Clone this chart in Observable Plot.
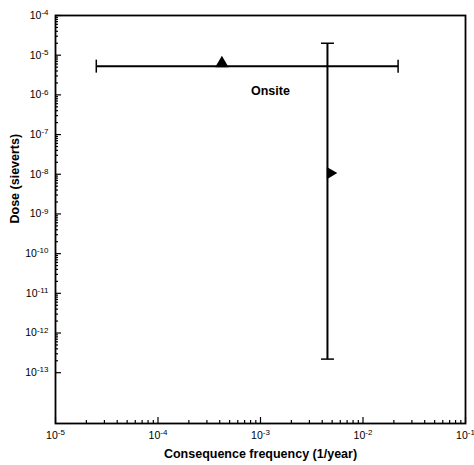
<!DOCTYPE html>
<html><head><meta charset="utf-8">
<script src="https://cdn.jsdelivr.net/npm/d3@7"></script>
<script src="https://cdn.jsdelivr.net/npm/@observablehq/plot@0.6"></script>
<style>
body{margin:0;background:#fff;}
</style></head>
<body><div id="chart"></div>
<script>
// horizontal range (frequency uncertainty)
const hBar = [{x1: 2.5e-5, x2: 2.2e-2, y: 5.3e-6}];
// vertical range (dose uncertainty)
const vBar = [{x: 4.5e-3, y1: 2.2e-13, y2: 2.0e-5}];
// point estimates
const upPoints = [{x: 4.2e-4, y: 6.2e-6}];
const rightPoints = [{x: 4.8e-3, y: 1.07e-8}];
const labels = [{x: 1.25e-3, y: 1.25e-6, text: "Onsite"}];
const xMajor = [1e-5, 1e-4, 1e-3, 1e-2, 1e-1];
const yMajor = [1e-4,1e-5,1e-6,1e-7,1e-8,1e-9,1e-10,1e-11,1e-12,1e-13];

const fmt = d => "10^" + Math.round(Math.log10(d));
const minors = (lo, hi) => { const a=[]; for (let e=lo; e<hi; e++) for (let m=2; m<=9; m++) a.push(m*10**e); return a; };
const xMinor = minors(-5, -1);
const yMinor = minors(-13, -4);

const W = 474, H = 465, ML = 55, MR = 9, MT = 15, MB = 42;
const FW = W - ML - MR, FH = H - MT - MB;

// fixed-length cap symbols
const seg = (x0, y0, x1, y1) => ({draw(ctx){ ctx.moveTo(x0, y0); ctx.lineTo(x1, y1); }});
const capV = seg(0, -6.5, 0, 6.5);
const capH = seg(-6.5, 0, 6.5, 0);

const chart = Plot.plot({
  width: W, height: H,
  marginLeft: ML, marginRight: MR, marginTop: MT, marginBottom: MB,
  x: {type: "log", domain: [1e-5, 1e-1]},
  y: {type: "log", domain: [10**-14.28, 1e-4]},
  marks: [
    Plot.axisX({ticks: xMajor, tickSize: 0, tickPadding: 8, tickFormat: fmt, label: null, fontSize: 10.5, fontFamily: "Liberation Sans, Arial, sans-serif"}),
    Plot.axisY({ticks: yMajor, tickSize: 0, tickPadding: 7, tickFormat: fmt, label: null, fontSize: 10.5, fontFamily: "Liberation Sans, Arial, sans-serif"}),
    Plot.ruleX(xMajor, {x: d => d, insetTop: FH - 6, stroke: "#000", strokeWidth: 1.2}),
    Plot.ruleX(xMinor, {x: d => d, insetTop: FH - 3, stroke: "#000", strokeWidth: 1.2}),
    Plot.ruleY(yMajor, {y: d => d, insetRight: FW - 6, stroke: "#000", strokeWidth: 1.2}),
    Plot.ruleY(yMinor, {y: d => d, insetRight: FW - 3, stroke: "#000", strokeWidth: 1.2}),
    Plot.frame({stroke: "#000", strokeWidth: 1.8}),
    Plot.text(["Consequence frequency (1/year)"], {frameAnchor: "bottom", dy: 34, fontSize: 12.5, fontWeight: "bold", fontFamily: "Liberation Sans, Arial, sans-serif"}),
    Plot.text(["Dose (sieverts)"], {frameAnchor: "left", dx: -41, dy: 4, rotate: -90, fontSize: 12.5, fontWeight: "bold", fontFamily: "Liberation Sans, Arial, sans-serif"}),
    Plot.link(hBar, {x1: "x1", x2: "x2", y1: "y", y2: "y", stroke: "#000", strokeWidth: 2}),
    Plot.dot(hBar, {x: "x1", y: "y", symbol: capV, stroke: "#000", strokeWidth: 1.5}),
    Plot.dot(hBar, {x: "x2", y: "y", symbol: capV, stroke: "#000", strokeWidth: 1.5}),
    Plot.link(vBar, {x1: "x", x2: "x", y1: "y1", y2: "y2", stroke: "#000", strokeWidth: 2}),
    Plot.dot(vBar, {x: "x", y: "y1", symbol: capH, stroke: "#000", strokeWidth: 1.5}),
    Plot.dot(vBar, {x: "x", y: "y2", symbol: capH, stroke: "#000", strokeWidth: 1.5}),
    Plot.dot(upPoints, {x: "x", y: "y", symbol: "triangle", r: 5, fill: "#000", stroke: "none"}),
    Plot.dot(rightPoints, {x: "x", y: "y", symbol: "triangle", rotate: 90, r: 4.5, fill: "#000", stroke: "none"}),
    Plot.text(labels, {x: "x", y: "y", text: "text", fontSize: 12.5, fontWeight: "bold", fontFamily: "Liberation Sans, Arial, sans-serif"})
  ]
});
// render exponents as superscripts
d3.select(chart).selectAll("text").each(function() {
  const m = /^10\^(-?\d+)$/.exec(this.textContent);
  if (!m) return;
  const sel = d3.select(this);
  sel.text("10");
  sel.append("tspan").attr("dy", "-0.45em").attr("font-size", "8px").text(m[1]);
});
document.getElementById("chart").append(chart);
</script></body></html>
